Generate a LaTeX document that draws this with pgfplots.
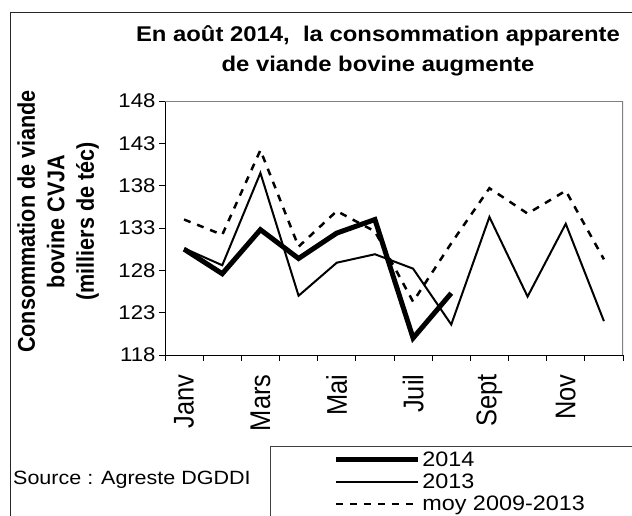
\documentclass[border=0pt]{standalone}
\usepackage{fontspec}
\setmainfont{Liberation Sans}[FakeStretch=1.12]
\newfontfamily\rotfont{Liberation Sans}[FakeStretch=0.893]
\usepackage{pgfplots}
\pgfplotsset{compat=1.18}
\begin{document}
\begin{tikzpicture}[x=1pt,y=1pt]
\useasboundingbox (0,0) rectangle (632,515);
\fill[white] (0,0) rectangle (632,515);
\draw[line width=1pt, black!85] (10,-5) -- (10,502.3) -- (640,502.3);
\node[font=\fontsize{21.3}{25}\selectfont\bfseries, anchor=base, inner sep=0pt] at (378,473.7) {En août 2014,\ \ la consommation apparente};
\node[font=\fontsize{21.3}{25}\selectfont\bfseries, anchor=base, inner sep=0pt] at (378,443.5) {de viande bovine augmente};
\node[font=\rotfont\fontsize{24.2}{29.5}\selectfont\bfseries, align=center, rotate=90] at (58,293.5) {Consommation de viande\\bovine CVJA\\(milliers de téc)};
\node[font=\fontsize{19.2}{23}\selectfont, anchor=base west, inner sep=0pt] at (13,31) {Source : Agreste DGDDI};
\draw[line width=1pt, black!75] (270,-5) -- (270,69) -- (640,69);
\begin{axis}[at={(165pt,160pt)}, anchor=south west, scale only axis,
  width=458pt, height=254pt,
  xmin=-0.5, xmax=11.5, ymin=118, ymax=148,
  axis x line*=bottom, axis y line*=left,
  axis line style={-, black, line width=1pt},
  xtick={-0.5,0.5,...,11.5}, xticklabels={},
  extra x ticks={0,2,4,6,8,10},
  extra x tick labels={Janv,Mars,Mai,Juil,Sept,Nov},
  extra x tick style={major tick length=0pt, xticklabel shift=16pt,
    tick label style={rotate=90, anchor=east, font=\rotfont\fontsize{28.5}{30}\selectfont}},
  ytick={118,123,...,148},
  tick align=outside, major tick length=6pt,
  tick style={black, line width=0.8pt},
  tick label style={font=\fontsize{19.8}{24}\selectfont},
  /pgf/number format/assume math mode=true,
  reverse legend,
  legend style={draw=none, fill=none, at={(axis description cs:0.367,-0.372)}, anchor=north west,
    inner sep=0pt, row sep=2pt, font=\fontsize{20.9}{24}\selectfont, cells={anchor=west}},
  legend image code/.code={\draw[#1] (0pt,0pt) -- (82pt,0pt);},
]
\draw[gray, line width=1.2pt] (rel axis cs:0,1) -- (rel axis cs:1,1) -- (rel axis cs:1,0);
\addplot[black, line width=2.5pt, dash pattern=on 7pt off 7pt] coordinates {(0,134.0)(1,132.2)(2,142.2)(3,130.8)(4,135.0)(5,132.6)(6,124.3)(7,131.2)(8,137.7)(9,134.7)(10,137.4)(11,129.3)};
\addlegendentry{moy 2009-2013}
\addplot[black, line width=2pt] coordinates {(0,130.6)(1,128.6)(2,139.5)(3,125.0)(4,128.9)(5,129.9)(6,128.2)(7,121.6)(8,134.3)(9,124.9)(10,133.5)(11,122.0)};
\addlegendentry{2013}
\addplot[black, line width=5pt] coordinates {(0,130.5)(1,127.6)(2,132.8)(3,129.4)(4,132.4)(5,134.0)(6,120.0)(7,125.3)};
\addlegendentry{2014}
\end{axis}
\end{tikzpicture}
\end{document}
